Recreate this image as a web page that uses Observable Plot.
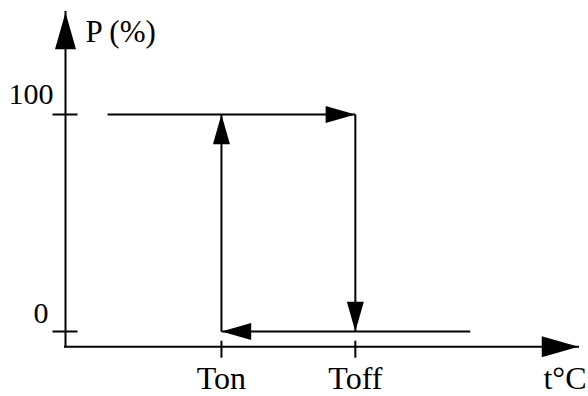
<!DOCTYPE html>
<html>
<head>
<meta charset="utf-8">
<script src="https://cdn.jsdelivr.net/npm/d3@7"></script>
<script src="https://cdn.jsdelivr.net/npm/@observablehq/plot@0.6"></script>
<style>
  html, body { margin: 0; padding: 0; background: #fff; }
  #chart svg { display: block; }
</style>
</head>
<body>
<div id="chart"></div>
<script>
// Data (arbitrary temperature units on x, power % on y)
const tempTicks = [30.4, 56.5];
const tempLabels = ["Ton", "Toff"];
const powerLevels = [0, 100];
const powerLabels = ["0", "100"];
// hysteresis loop segments (start -> end, arrow at end)
const loopX1 = [8.2, 56.5, 78.9, 30.4];
const loopY1 = [100, 100, 0, 0];
const loopX2 = [56.5, 56.5, 30.4, 30.4];
const loopY2 = [100, 0, 0, 100];
// axes extent
const axisX = [0, 100];
const axisY = [-7, 147];

const segments = loopX1.map((x1, i) => ({
  x1, y1: loopY1[i], x2: loopX2[i], y2: loopY2[i],
  rot: Math.atan2(loopX2[i] - x1, loopY2[i] - loopY1[i]) * 180 / Math.PI
}));
const axisArrows = [
  {x: axisX[1], y: axisY[0], rot: 90},
  {x: axisX[0], y: axisY[1], rot: 0}
];

const arrowHead = {
  draw(ctx, size) {
    const r = Math.sqrt(size / Math.PI);
    ctx.moveTo(0, 0);
    ctx.lineTo(-r, 3.5 * r);
    ctx.lineTo(r, 3.5 * r);
    ctx.closePath();
  }
};
const hTick = { draw(ctx) { ctx.moveTo(-13, 0); ctx.lineTo(12, 0); } };
const vTick = { draw(ctx) { ctx.moveTo(0, -6); ctx.lineTo(0, 11); } };

const font = "Liberation Serif, Times New Roman, serif";

const chart = Plot.plot({
  width: 588,
  height: 396,
  x: {domain: axisX, range: [65, 578], axis: null},
  y: {domain: [0, 100], range: [331, 114], axis: null},
  style: {fontFamily: font, fontSize: "31px", background: "#fff"},
  marks: [
    // axes
    Plot.ruleY([axisY[0]], {x1: axisX[0], x2: axisX[1], stroke: "black", strokeWidth: 2, strokeLinecap: "square"}),
    Plot.ruleX([axisX[0]], {y1: axisY[0], y2: axisY[1], stroke: "black", strokeWidth: 2, strokeLinecap: "square"}),
    Plot.dot(axisArrows, {x: "x", y: "y", rotate: "rot", symbol: arrowHead, r: 10.5, fill: "black", stroke: "none"}),
    // ticks
    Plot.dot(powerLevels, {x: axisX[0], y: d => d, symbol: hTick, r: 5, fill: "none", stroke: "black", strokeWidth: 2}),
    Plot.dot(tempTicks, {x: d => d, y: axisY[0], symbol: vTick, r: 5, fill: "none", stroke: "black", strokeWidth: 2}),
    // loop
    Plot.link(segments, {x1: "x1", y1: "y1", x2: "x2", y2: "y2", stroke: "black", strokeWidth: 2}),
    Plot.dot(segments, {x: "x2", y: "y2", rotate: "rot", symbol: arrowHead, r: 8.5, fill: "black", stroke: "none"}),
    // labels
    Plot.text([powerLabels[1]], {x: axisX[0], y: powerLevels[1], text: d => d, textAnchor: "end", lineAnchor: "bottom", dx: -12, dy: -11, fontSize: 30, fill: "black"}),
    Plot.text([powerLabels[0]], {x: axisX[0], y: powerLevels[0], text: d => d, textAnchor: "end", lineAnchor: "bottom", dx: -17, dy: -9, fontSize: 30, fill: "black"}),
    Plot.text(tempLabels, {x: (d, i) => tempTicks[i], y: axisY[0], text: d => d, textAnchor: "middle", lineAnchor: "bottom", dy: 42, fontSize: 32, fill: "black"}),
    Plot.text(["P (%)"], {x: axisX[0], y: axisY[1], text: d => d, textAnchor: "start", lineAnchor: "bottom", dx: 20, dy: 29, fontSize: 31, fill: "black"}),
    Plot.text(["t°C"], {x: axisX[1], y: axisY[0], text: d => d, textAnchor: "end", lineAnchor: "bottom", dx: 8, dy: 42, fontSize: 32, fill: "black"})
  ]
});
document.getElementById("chart").appendChild(chart);
</script>
</body>
</html>
